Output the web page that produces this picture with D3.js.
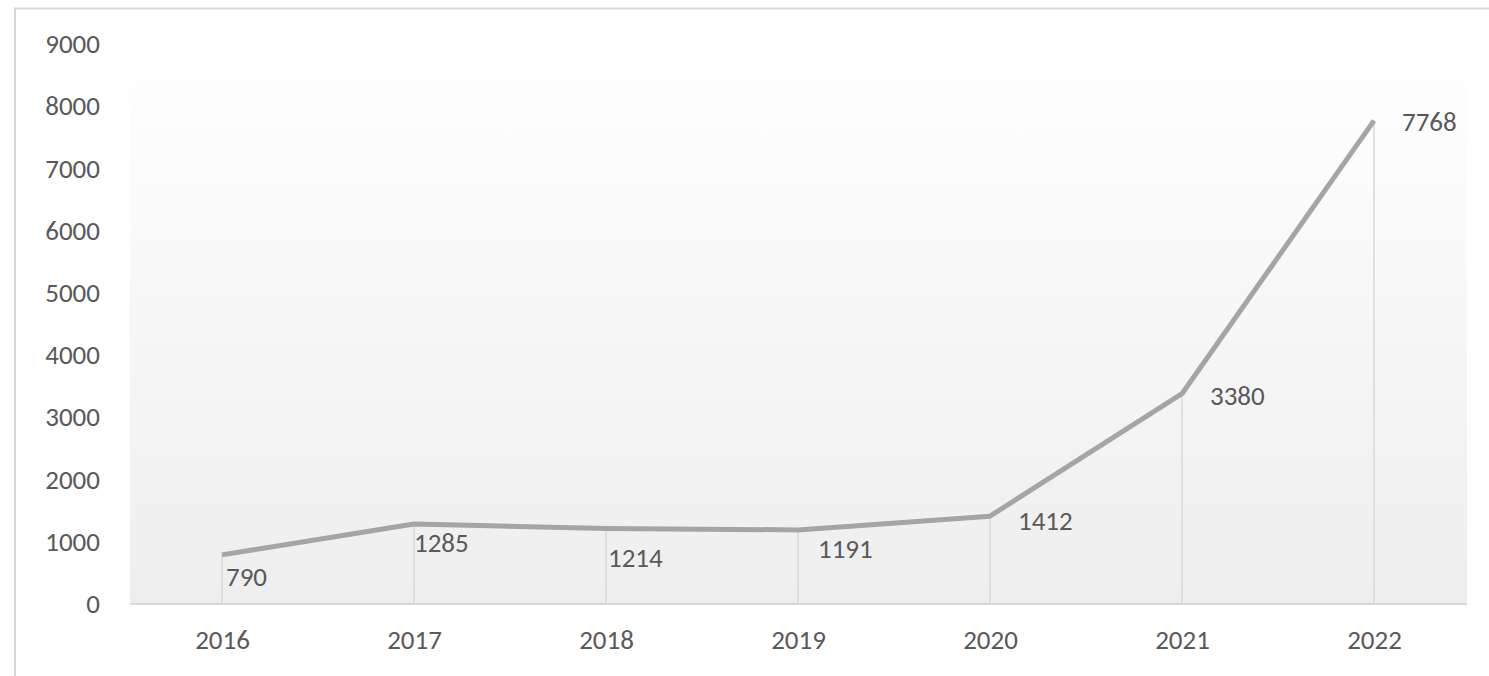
<!DOCTYPE html>
<html>
<head>
<meta charset="utf-8">
<script src="https://cdn.jsdelivr.net/npm/d3@7"></script>
<style>
    body { margin: 0; background: #fff; }
    svg { display: block; }
    text { font-family: Calibri, Carlito, "Open Sans", sans-serif; }
</style>
</head>
<body>
<div id="chart"></div>
<script>
// data
const years = ["2016", "2017", "2018", "2019", "2020", "2021", "2022"];
const counts = [790, 1285, 1214, 1191, 1412, 3380, 7768];
const yTicks = [0, 1000, 2000, 3000, 4000, 5000, 6000, 7000, 8000, 9000];

// label nudges [dx, dy] relative to each point (Excel placed them by hand-ish)
const labelNudge = [[4, 21], [0, 18], [2, 29], [20, 18], [28, 4], [28, 2], [28, 1]];

const width = 1489, height = 676;
const plot = {left: 130, right: 1467, top: 44, bottom: 604};
const textColor = "#595959";

let svg = d3.select("#chart").append("svg")
    .attr("width", width)
    .attr("height", height);

// background gradient of the plot area
let defs = svg.append("defs");
let grad = defs.append("linearGradient")
    .attr("id", "bg")
    .attr("x1", 0).attr("y1", 0)
    .attr("x2", 0).attr("y2", 1);
grad.append("stop").attr("offset", "0%").attr("stop-color", "#ffffff");
grad.append("stop").attr("offset", "100%").attr("stop-color", "#eeeeee");

// chart border (runs off the right and bottom of the crop)
svg.append("rect")
    .attr("x", 15)
    .attr("y", 8.5)
    .attr("width", width + 20)
    .attr("height", height + 20)
    .attr("fill", "none")
    .attr("stroke", "#d9d9d9")
    .attr("stroke-width", 2);

let x = d3.scalePoint()
    .domain(years)
    .range([126, 1470])
    .padding(0.5);

let y = d3.scaleLinear()
    .domain([0, 9000])
    .range([plot.bottom, plot.top]);

svg.append("rect")
    .attr("x", plot.left)
    .attr("y", plot.top)
    .attr("width", plot.right - plot.left)
    .attr("height", plot.bottom - plot.top)
    .attr("fill", "url(#bg)");

// drop lines
svg.append("g")
    .selectAll("line")
    .data(counts)
    .join("line")
    .attr("x1", (d, i) => x(years[i]))
    .attr("x2", (d, i) => x(years[i]))
    .attr("y1", d => y(d))
    .attr("y2", y(0))
    .attr("stroke", "#d9d9d9")
    .attr("stroke-width", 1.5);

// axis base line
svg.append("line")
    .attr("x1", plot.left)
    .attr("x2", plot.right)
    .attr("y1", y(0))
    .attr("y2", y(0))
    .attr("stroke", "#d9d9d9")
    .attr("stroke-width", 2);

let yAxis = svg.append("g")
    .attr("transform", `translate(${plot.left},0)`)
    .call(d3.axisLeft(y).tickValues(yTicks).tickSize(0).tickPadding(30).tickFormat(d3.format("d")));
yAxis.select(".domain").remove();
yAxis.selectAll("text")
    .attr("font-size", 27)
    .attr("fill", textColor)
    .style("font-family", "Calibri, Carlito, 'Open Sans', sans-serif");

let xAxis = svg.append("g")
    .attr("transform", `translate(0,${plot.bottom})`)
    .call(d3.axisBottom(x).tickSize(0).tickPadding(26));
xAxis.select(".domain").remove();
xAxis.selectAll("text")
    .attr("font-size", 27)
    .attr("fill", textColor)
    .style("font-family", "Calibri, Carlito, 'Open Sans', sans-serif");

// the series line
let line = d3.line()
    .x((d, i) => x(years[i]))
    .y(d => y(d));

svg.append("path")
    .datum(counts)
    .attr("d", line)
    .attr("fill", "none")
    .attr("stroke", "#a5a5a5")
    .attr("stroke-width", 5)
    .attr("stroke-linejoin", "round");

// data labels
svg.append("g")
    .selectAll("text")
    .data(counts)
    .join("text")
    .attr("x", (d, i) => x(years[i]) + labelNudge[i][0])
    .attr("y", (d, i) => y(d) + labelNudge[i][1])
    .attr("dy", "0.36em")
    .attr("font-size", 27)
    .attr("fill", textColor)
    .text(d => d);
</script>
</body>
</html>
